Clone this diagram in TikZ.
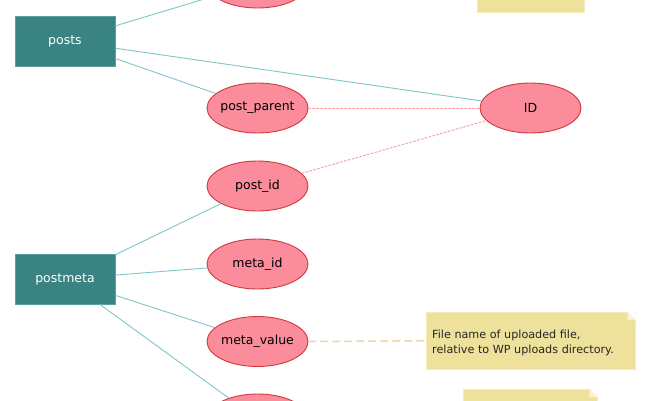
\documentclass[tikz,border=0pt]{standalone}
\usepackage{fontspec}
\setmainfont{DejaVu Sans}
\usetikzlibrary{shapes.geometric}
\definecolor{boxfill}{HTML}{3A8383}
\definecolor{boxline}{HTML}{5A9E9E}
\definecolor{ellfill}{HTML}{FA8C9B}
\definecolor{ellline}{HTML}{D03A3A}
\definecolor{tealline}{HTML}{7CC6CA}
\definecolor{redline}{HTML}{F3A2A8}
\definecolor{notefill}{HTML}{EEE19C}
\definecolor{noteline}{HTML}{F4EBBB}
\definecolor{orangeline}{HTML}{F2D3A6}
\tikzset{
  entity/.style={draw=boxline, line width=0.6pt, fill=boxfill, text=white, minimum width=100pt, minimum height=50pt, inner sep=0pt, font=\fontsize{12.5}{14}\selectfont},
  attr/.style={ellipse, draw=ellline, line width=0.9pt, fill=ellfill, minimum width=101pt, minimum height=50pt, inner xsep=-6pt, inner ysep=0pt, text=black, font=\fontsize{12.5}{14}\selectfont},
  rel/.style={draw=tealline, line width=0.9pt},
  keyline/.style={draw=redline, line width=1pt, dash pattern=on 2.5pt off 1.5pt},
  noteline/.style={draw=orangeline, line width=1.5pt, dash pattern=on 8pt off 4pt},
  notebox/.style={draw=noteline, line width=0.6pt, fill=notefill, inner sep=0pt, anchor=north west},
  notetext/.style={align=left, anchor=west, inner sep=0pt, text=black!85, font=\fontsize{11.2}{15}\selectfont}
}
\begin{document}
\begin{tikzpicture}[x=1pt,y=-1pt]
\useasboundingbox (0,0) rectangle (650,400);
% notes
\node[notebox, minimum width=107pt, minimum height=40pt] (ntop) at (477,-28) {};
\node[notebox, minimum width=209pt, minimum height=57pt] (nmid) at (426,312) {};
\node[notebox, minimum width=134pt, minimum height=40pt] (nbot) at (463,389) {};
\foreach \n in {nmid,nbot}{
  \fill[white] (\n.north east) -- ++(-8,0) -- ++(8,8) -- cycle;
  \fill[noteline!60!white] (\n.north east) ++(-8,0) -- ++(0,8) -- ++(8,0) -- cycle;
}
\node[notetext] (tmid) at (432,343) {File name of uploaded file,\\relative to WP uploads directory.};
% entities
\node[entity] (posts) at (65,41) {posts};
\node[entity] (postmeta) at (65,279) {postmeta};
% attributes
\node[attr] (top) at (257.5,-17) {};
\node[attr] (parent) at (257.5,108) {post\_parent};
\node[attr] (id) at (530.5,108) {ID};
\node[attr] (postid) at (257.5,186) {post\_id};
\node[attr] (metaid) at (257.5,264) {meta\_id};
\node[attr] (metavalue) at (257.5,341.5) {meta\_value};
\node[attr] (bottom) at (257.5,419) {};
% connectors
\draw[rel] (posts) -- (top);
\draw[rel] (posts) -- (id);
\draw[rel] (posts) -- (parent);
\draw[rel] (postmeta) -- (postid);
\draw[rel] (postmeta) -- (metaid);
\draw[rel] (postmeta) -- (metavalue);
\draw[rel] (postmeta) -- (bottom);
\draw[keyline] (parent) -- (id);
\draw[keyline] (postid) -- (id);
\draw[noteline] (metavalue.east) -- (nmid.west);
\end{tikzpicture}
\end{document}
